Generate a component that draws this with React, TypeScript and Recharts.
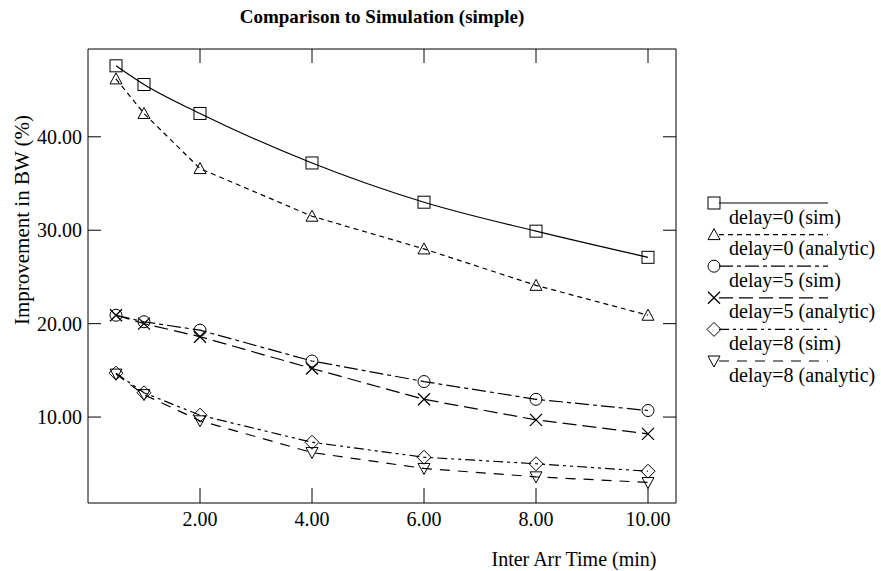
import React from 'react';
import { LineChart, Line, XAxis, YAxis } from 'recharts';

const interArrTimes = [0.5, 1, 2, 4, 6, 8, 10];
const delay0Sim = [47.6, 45.6, 42.5, 37.2, 33.0, 29.9, 27.1];
const delay0Analytic = [46.2, 42.5, 36.6, 31.5, 28.0, 24.1, 20.9];
const delay5Sim = [20.9, 20.2, 19.3, 16.0, 13.8, 11.9, 10.7];
const delay5Analytic = [20.9, 20.0, 18.6, 15.2, 11.9, 9.7, 8.2];
const delay8Sim = [14.7, 12.6, 10.2, 7.3, 5.7, 5.0, 4.2];
const delay8Analytic = [14.6, 12.4, 9.6, 6.2, 4.5, 3.6, 3.0];

const xTicks = [2, 4, 6, 8, 10];
const yTicks = [10, 20, 30, 40];

const FONT = '"Liberation Serif", "Times New Roman", serif';

type Marker = 'square' | 'triangle' | 'circle' | 'cross' | 'diamond' | 'triangleDown';

const series: { key: string; name: string; values: number[]; dash?: string; marker: Marker; curve: 'monotone' | 'linear' }[] = [
  { key: 'd0s', name: 'delay=0 (sim)', values: delay0Sim, marker: 'square', curve: 'monotone' },
  { key: 'd0a', name: 'delay=0 (analytic)', values: delay0Analytic, dash: '5 4', marker: 'triangle', curve: 'linear' },
  { key: 'd5s', name: 'delay=5 (sim)', values: delay5Sim, dash: '14 4 4 4', marker: 'circle', curve: 'linear' },
  { key: 'd5a', name: 'delay=5 (analytic)', values: delay5Analytic, dash: '14 6', marker: 'cross', curve: 'linear' },
  { key: 'd8s', name: 'delay=8 (sim)', values: delay8Sim, dash: '10 4 3 4 3 4', marker: 'diamond', curve: 'linear' },
  { key: 'd8a', name: 'delay=8 (analytic)', values: delay8Analytic, dash: '10 8', marker: 'triangleDown', curve: 'linear' },
];

const data = interArrTimes.map((x, i) => {
  const row: Record<string, number> = { x };
  series.forEach((s) => (row[s.key] = s.values[i]));
  return row;
});

function drawMarker(type: Marker, cx: number, cy: number, key?: React.Key) {
  const p = { fill: 'none', stroke: '#000', strokeWidth: 1 };
  switch (type) {
    case 'square':
      return <rect key={key} x={cx - 6} y={cy - 6} width={12} height={12} {...p} />;
    case 'triangle':
      return <path key={key} d={`M${cx},${cy - 6}L${cx - 6},${cy + 5}L${cx + 6},${cy + 5}Z`} {...p} />;
    case 'circle':
      return <circle key={key} cx={cx} cy={cy} r={6} {...p} />;
    case 'cross':
      return <path key={key} d={`M${cx - 6},${cy - 6}L${cx + 6},${cy + 6}M${cx + 6},${cy - 6}L${cx - 6},${cy + 6}`} {...p} strokeWidth={1.3} />;
    case 'diamond':
      return <path key={key} d={`M${cx},${cy - 7}L${cx + 7},${cy}L${cx},${cy + 7}L${cx - 7},${cy}Z`} {...p} />;
    default:
      return <path key={key} d={`M${cx - 6},${cy - 5}L${cx + 6},${cy - 5}L${cx},${cy + 6}Z`} {...p} />;
  }
}

const fmt = (v: number) => v.toFixed(2);
const tickStyle = { fill: '#000', fontSize: 20, fontFamily: FONT };
const noTick = () => <g />;

const Legend = () => (
  <svg width={181} height={200} style={{ position: 'absolute', left: 700, top: 190 }}>
    {series.map((s, i) => {
      const y = 13 + i * 31.6;
      return (
        <g key={s.key}>
          {drawMarker(s.marker, 14, y)}
          <line x1={19} x2={128} y1={y} y2={y} stroke="#000" strokeWidth={1.2} strokeDasharray={s.dash} />
          <text x={29} y={y + 20.5} fontSize={20} fontFamily={FONT} fill="#000">
            {s.name}
          </text>
        </g>
      );
    })}
  </svg>
);

export default function App() {
  return (
    <div style={{ position: 'absolute', left: 0, top: 0, width: 881, height: 571, background: '#fff', fontFamily: FONT }}>
      <div style={{ position: 'absolute', left: 0, top: 6, width: 764, textAlign: 'center', fontSize: 19, fontWeight: 'bold' }}>
        Comparison to Simulation (simple)
      </div>
      <div
        style={{
          position: 'absolute', left: 22, top: 220, transform: 'translate(-50%, -50%) rotate(-90deg)',
          whiteSpace: 'nowrap', fontSize: 21, lineHeight: '22px',
        }}
      >
        Improvement in BW (%)
      </div>
      <div style={{ position: 'absolute', left: 474, top: 548, width: 200, textAlign: 'center', fontSize: 20, lineHeight: '22px' }}>
        Inter Arr Time (min)
      </div>
      <LineChart width={881} height={571} data={data} margin={{ top: 49, right: 205, bottom: 0, left: 0 }}>
        <XAxis
          xAxisId="b" dataKey="x" type="number" domain={[0, 10.5]} ticks={xTicks} tickFormatter={fmt}
          allowDataOverflow height={68} tickLine={false} tickSize={0} tickMargin={9} stroke="#000" tick={tickStyle}
        />
        <XAxis
          xAxisId="bt" dataKey="x" type="number" domain={[0, 10.5]} ticks={xTicks} allowDataOverflow
          mirror axisLine={false} tick={noTick} tickSize={15} stroke="#000"
        />
        <XAxis
          xAxisId="t" orientation="top" dataKey="x" type="number" domain={[0, 10.5]} ticks={xTicks} allowDataOverflow
          mirror tick={noTick} tickSize={14} stroke="#000"
        />
        <YAxis
          yAxisId="l" type="number" domain={[0.8, 49.4]} ticks={yTicks} tickFormatter={fmt} allowDataOverflow
          width={88} tickLine={false} tickSize={0} tickMargin={6} stroke="#000" tick={tickStyle}
        />
        <YAxis
          yAxisId="lt" type="number" domain={[0.8, 49.4]} ticks={yTicks} allowDataOverflow
          mirror axisLine={false} tick={noTick} tickSize={13} stroke="#000"
        />
        <YAxis
          yAxisId="r" orientation="right" type="number" domain={[0.8, 49.4]} ticks={yTicks} allowDataOverflow
          mirror tick={noTick} tickSize={13} stroke="#000"
        />
        {series.map((s) => (
          <Line
            key={s.key}
            xAxisId="b"
            yAxisId="l"
            dataKey={s.key}
            name={s.name}
            type={s.curve}
            stroke="#000"
            strokeWidth={1.2}
            strokeDasharray={s.dash}
            isAnimationActive={false}
            dot={(props: any) => drawMarker(s.marker, props.cx, props.cy, `${s.key}-${props.index}`)}
            activeDot={false}
          />
        ))}
      </LineChart>
      <Legend />
    </div>
  );
}
